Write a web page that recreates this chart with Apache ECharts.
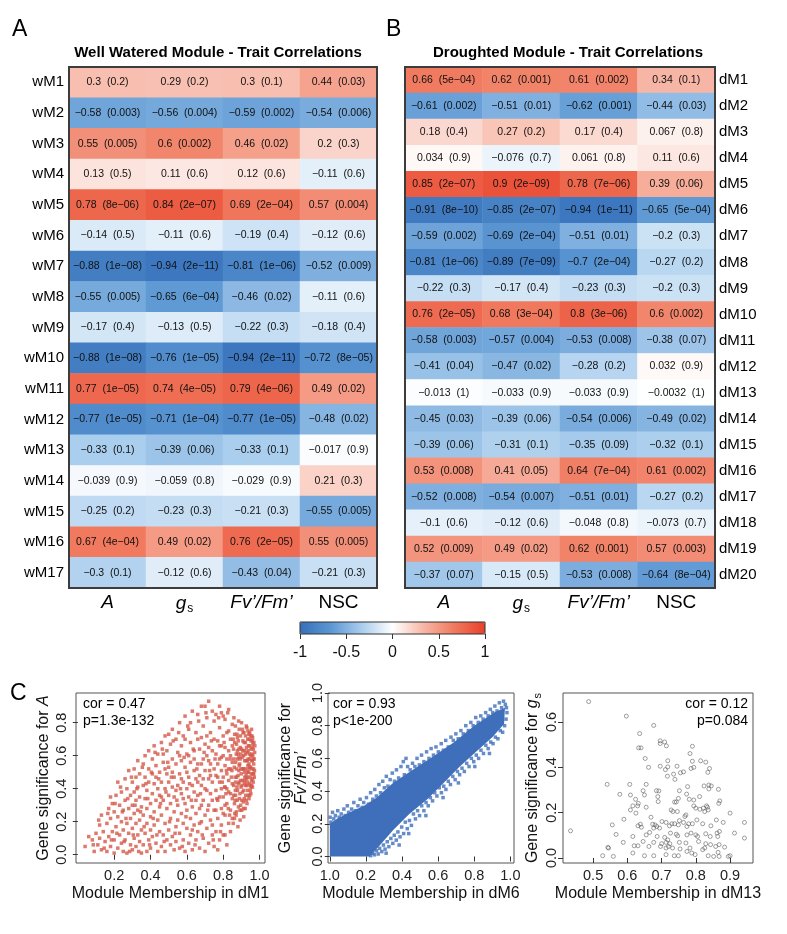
<!DOCTYPE html>
<html lang="en">
<head>
<meta charset="UTF-8">
<title>Module - Trait Correlations</title>
<script src="https://cdn.jsdelivr.net/npm/echarts@6/dist/echarts.min.js"></script>
<style>
    html, body { margin: 0; padding: 0; background: #fff; }
    #main { width: 787px; height: 934px; }
</style>
</head>
<body>
<div id="main"></div>
<script>
// ---------- heatmap data ----------
const traits = ['A', 'gs', 'Fv/Fm', 'NSC'];

const wRows = ['wM1','wM2','wM3','wM4','wM5','wM6','wM7','wM8','wM9','wM10','wM11','wM12','wM13','wM14','wM15','wM16','wM17'];
const wCor = [
    [0.3, 0.29, 0.3, 0.44],
    [-0.58, -0.56, -0.59, -0.54],
    [0.55, 0.6, 0.46, 0.2],
    [0.13, 0.11, 0.12, -0.11],
    [0.78, 0.84, 0.69, 0.57],
    [-0.14, -0.11, -0.19, -0.12],
    [-0.88, -0.94, -0.81, -0.52],
    [-0.55, -0.65, -0.46, -0.11],
    [-0.17, -0.13, -0.22, -0.18],
    [-0.88, -0.76, -0.94, -0.72],
    [0.77, 0.74, 0.79, 0.49],
    [-0.77, -0.71, -0.77, -0.48],
    [-0.33, -0.39, -0.33, -0.017],
    [-0.039, -0.059, -0.029, 0.21],
    [-0.25, -0.23, -0.21, -0.55],
    [0.67, 0.49, 0.76, 0.55],
    [-0.3, -0.12, -0.43, -0.21]
];
const wP = [
    ['0.2', '0.2', '0.1', '0.03'],
    ['0.003', '0.004', '0.002', '0.006'],
    ['0.005', '0.002', '0.02', '0.3'],
    ['0.5', '0.6', '0.6', '0.6'],
    ['8e-06', '2e-07', '2e-04', '0.004'],
    ['0.5', '0.6', '0.4', '0.6'],
    ['1e-08', '2e-11', '1e-06', '0.009'],
    ['0.005', '6e-04', '0.02', '0.6'],
    ['0.4', '0.5', '0.3', '0.4'],
    ['1e-08', '1e-05', '2e-11', '8e-05'],
    ['1e-05', '4e-05', '4e-06', '0.02'],
    ['1e-05', '1e-04', '1e-05', '0.02'],
    ['0.1', '0.06', '0.1', '0.9'],
    ['0.9', '0.8', '0.9', '0.3'],
    ['0.2', '0.3', '0.3', '0.005'],
    ['4e-04', '0.02', '2e-05', '0.005'],
    ['0.1', '0.6', '0.04', '0.3']
];

const dRows = ['dM1','dM2','dM3','dM4','dM5','dM6','dM7','dM8','dM9','dM10','dM11','dM12','dM13','dM14','dM15','dM16','dM17','dM18','dM19','dM20'];
const dCor = [
    [0.66, 0.62, 0.61, 0.34],
    [-0.61, -0.51, -0.62, -0.44],
    [0.18, 0.27, 0.17, 0.067],
    [0.034, -0.076, 0.061, 0.11],
    [0.85, 0.9, 0.78, 0.39],
    [-0.91, -0.85, -0.94, -0.65],
    [-0.59, -0.69, -0.51, -0.2],
    [-0.81, -0.89, -0.7, -0.27],
    [-0.22, -0.17, -0.23, -0.2],
    [0.76, 0.68, 0.8, 0.6],
    [-0.58, -0.57, -0.53, -0.38],
    [-0.41, -0.47, -0.28, 0.032],
    [-0.013, -0.033, -0.033, -0.0032],
    [-0.45, -0.39, -0.54, -0.49],
    [-0.39, -0.31, -0.35, -0.32],
    [0.53, 0.41, 0.64, 0.61],
    [-0.52, -0.54, -0.51, -0.27],
    [-0.1, -0.12, -0.048, -0.073],
    [0.52, 0.49, 0.62, 0.57],
    [-0.37, -0.15, -0.53, -0.64]
];
const dP = [
    ['5e-04', '0.001', '0.002', '0.1'],
    ['0.002', '0.01', '0.001', '0.03'],
    ['0.4', '0.2', '0.4', '0.8'],
    ['0.9', '0.7', '0.8', '0.6'],
    ['2e-07', '2e-09', '7e-06', '0.06'],
    ['8e-10', '2e-07', '1e-11', '5e-04'],
    ['0.002', '2e-04', '0.01', '0.3'],
    ['1e-06', '7e-09', '2e-04', '0.2'],
    ['0.3', '0.4', '0.3', '0.3'],
    ['2e-05', '3e-04', '3e-06', '0.002'],
    ['0.003', '0.004', '0.008', '0.07'],
    ['0.04', '0.02', '0.2', '0.9'],
    ['1', '0.9', '0.9', '1'],
    ['0.03', '0.06', '0.006', '0.02'],
    ['0.06', '0.1', '0.09', '0.1'],
    ['0.008', '0.05', '7e-04', '0.002'],
    ['0.008', '0.007', '0.01', '0.2'],
    ['0.6', '0.6', '0.8', '0.7'],
    ['0.009', '0.02', '0.001', '0.003'],
    ['0.07', '0.5', '0.008', '8e-04']
];

const colorTicks = [-1, -0.5, 0, 0.5, 1];

// ---------- scatter data ----------
// dM1 membership vs gene significance for A
const dM1Points = [
    [0.04,0.05],[0.06,0.11],[0.08,0.09],[0.09,0.02],[0.10,0.13],[0.11,0.06],[0.12,0.10],[0.13,0.03],[0.13,0.24],[0.14,0.14],[0.15,0.08],[0.12,0.18],
    [0.16,0.02],[0.16,0.19],[0.17,0.28],[0.17,0.11],[0.18,0.05],[0.18,0.22],[0.19,0.31],[0.19,0.14],[0.20,0.01],[0.20,0.26],[0.20,0.09],[0.21,0.36],[0.21,0.17],
    [0.22,0.04],[0.22,0.23],[0.22,0.44],[0.23,0.12],[0.23,0.30],[0.24,0.07],[0.24,0.20],[0.24,0.38],[0.25,0.15],[0.25,0.02],[0.25,0.27],[0.18,0.35],
    [0.26,0.09],[0.26,0.33],[0.26,0.46],[0.27,0.19],[0.27,0.01],[0.27,0.40],[0.28,0.13],[0.28,0.28],[0.28,0.51],[0.29,0.06],[0.29,0.22],[0.29,0.36],
    [0.30,0.16],[0.30,0.44],[0.30,0.03],[0.30,0.30],[0.31,0.10],[0.31,0.25],[0.31,0.52],[0.31,0.38],[0.32,0.19],[0.32,0.05],[0.32,0.33],[0.32,0.47],
    [0.33,0.12],[0.33,0.27],[0.33,0.57],[0.33,0.41],[0.34,0.08],[0.34,0.21],[0.34,0.35],[0.34,0.49],[0.35,0.15],[0.35,0.01],[0.35,0.29],
    [0.36,0.42],[0.36,0.06],[0.36,0.24],[0.36,0.55],[0.37,0.13],[0.37,0.34],[0.37,0.60],[0.37,0.47],[0.38,0.02],[0.38,0.19],[0.38,0.28],[0.38,0.39],
    [0.39,0.09],[0.39,0.52],[0.39,0.44],[0.39,0.63],[0.40,0.15],[0.40,0.31],[0.40,0.23],[0.40,0.04],[0.41,0.37],[0.41,0.49],[0.41,0.58],[0.41,0.11],
    [0.42,0.26],[0.42,0.43],[0.42,0.18],[0.42,0.66],[0.43,0.07],[0.43,0.33],[0.43,0.54],[0.43,0.47],[0.44,0.21],[0.44,0.02],[0.44,0.40],[0.44,0.61],
    [0.45,0.14],[0.45,0.29],[0.45,0.50],[0.45,0.36],
    [0.46,0.05],[0.46,0.24],[0.46,0.44],[0.46,0.68],[0.47,0.12],[0.47,0.33],[0.47,0.56],[0.47,0.61],[0.48,0.19],[0.48,0.40],[0.48,0.02],[0.48,0.72],
    [0.49,0.09],[0.49,0.28],[0.49,0.49],[0.49,0.63],[0.50,0.15],[0.50,0.36],[0.50,0.53],[0.50,0.44],[0.51,0.06],[0.51,0.22],[0.51,0.67],[0.51,0.31],
    [0.52,0.11],[0.52,0.41],[0.52,0.58],[0.52,0.76],[0.53,0.26],[0.53,0.03],[0.53,0.47],[0.53,0.35],[0.54,0.17],[0.54,0.55],[0.54,0.70],[0.54,0.08],
    [0.55,0.30],[0.55,0.42],[0.55,0.62],[0.55,0.21],[0.52,0.50],[0.50,0.73],[0.48,0.52],[0.46,0.35],[0.54,0.39],
    [0.56,0.04],[0.56,0.13],[0.56,0.49],[0.56,0.80],[0.57,0.25],[0.57,0.37],[0.57,0.66],[0.57,0.57],[0.58,0.09],[0.58,0.44],[0.58,0.72],[0.58,0.19],
    [0.59,0.31],[0.59,0.53],[0.59,0.84],[0.59,0.02],[0.60,0.16],[0.60,0.40],[0.60,0.61],[0.60,0.27],[0.61,0.07],[0.61,0.47],[0.61,0.76],[0.61,0.35],
    [0.62,0.22],[0.62,0.56],[0.62,0.12],[0.62,0.68],[0.63,0.42],[0.63,0.29],[0.63,0.87],[0.63,0.03],[0.64,0.18],[0.64,0.51],[0.64,0.63],[0.64,0.38],
    [0.65,0.09],[0.65,0.25],[0.65,0.74],[0.65,0.46],[0.56,0.60],[0.58,0.34],[0.60,0.50],[0.62,0.80],[0.64,0.58],[0.57,0.46],[0.59,0.70],[0.61,0.60],
    [0.63,0.15],[0.65,0.33],
    [0.66,0.55],[0.66,0.14],[0.66,0.85],[0.66,0.36],[0.67,0.04],[0.67,0.28],[0.67,0.64],[0.67,0.48],[0.68,0.20],[0.68,0.71],[0.68,0.42],[0.68,0.90],
    [0.69,0.10],[0.69,0.33],[0.69,0.58],[0.69,0.78],[0.70,0.24],[0.70,0.51],[0.70,0.02],[0.70,0.67],[0.71,0.16],[0.71,0.39],[0.71,0.83],[0.71,0.60],
    [0.72,0.07],[0.72,0.30],[0.72,0.46],[0.72,0.93],[0.73,0.21],[0.73,0.55],[0.73,0.74],[0.73,0.37],[0.74,0.12],[0.74,0.63],[0.74,0.87],[0.74,0.44],
    [0.75,0.27],[0.75,0.52],[0.75,0.05],[0.75,0.70],[0.66,0.70],[0.68,0.55],[0.70,0.40],[0.72,0.65],[0.74,0.33],[0.67,0.19],[0.69,0.46],[0.71,0.72],
    [0.73,0.48],[0.75,0.81],[0.70,0.90],[0.72,0.57],[0.68,0.30],[0.74,0.18],[0.66,0.44],
    [0.76,0.14],[0.76,0.39],[0.76,0.61],[0.76,0.85],[0.76,0.48],[0.77,0.22],[0.77,0.69],[0.77,0.33],[0.77,0.55],[0.77,0.03],[0.78,0.44],[0.78,0.77],
    [0.78,0.09],[0.78,0.58],[0.78,0.90],[0.79,0.28],[0.79,0.51],[0.79,0.66],[0.79,0.18],[0.79,0.40],[0.80,0.35],[0.80,0.72],[0.80,0.60],[0.80,0.12],
    [0.80,0.47],[0.81,0.24],[0.81,0.82],[0.81,0.54],[0.81,0.41],[0.81,0.65],[0.82,0.31],[0.82,0.06],[0.82,0.49],[0.82,0.74],[0.82,0.58],[0.83,0.19],
    [0.83,0.38],[0.83,0.63],[0.83,0.88],[0.83,0.45],[0.84,0.27],[0.84,0.52],[0.84,0.70],[0.84,0.14],[0.84,0.60],[0.85,0.34],[0.85,0.43],[0.85,0.79],
    [0.85,0.22],[0.85,0.56],[0.76,0.27],[0.78,0.66],[0.80,0.84],[0.82,0.40],[0.84,0.37],[0.77,0.47],[0.79,0.59],[0.81,0.30],[0.83,0.52],[0.85,0.66],
    [0.79,0.86],[0.81,0.12],[0.83,0.75],[0.78,0.35],[0.80,0.25],
    [0.855,0.19],[0.862,0.31],[0.858,0.42],[0.861,0.53],[0.857,0.64],[0.863,0.73],[0.859,0.83],[0.871,0.24],[0.868,0.36],[0.874,0.47],[0.869,0.56],
    [0.873,0.67],[0.867,0.78],[0.872,0.26],[0.881,0.17],[0.884,0.29],[0.879,0.39],[0.886,0.51],[0.882,0.61],[0.878,0.71],[0.885,0.81],[0.893,0.21],
    [0.889,0.34],[0.896,0.45],[0.891,0.55],[0.894,0.65],[0.888,0.76],[0.902,0.27],[0.906,0.38],[0.899,0.49],[0.904,0.59],[0.908,0.69],[0.901,0.80],
    [0.913,0.23],[0.911,0.32],[0.916,0.43],[0.912,0.52],[0.917,0.63],[0.914,0.74],[0.921,0.28],[0.924,0.36],[0.919,0.47],[0.926,0.57],[0.922,0.68],
    [0.927,0.78],[0.866,0.47],[0.877,0.58],[0.887,0.44],[0.897,0.61],[0.907,0.52],[0.918,0.57],[0.864,0.25],[0.883,0.69],[0.903,0.33],[0.915,0.68],
    [0.925,0.42],[0.876,0.41],[0.892,0.27],[0.909,0.74],[0.858,0.58],[0.895,0.72],[0.913,0.39],[0.921,0.52],
    [0.931,0.31],[0.934,0.39],[0.929,0.46],[0.936,0.54],[0.932,0.62],[0.935,0.70],[0.930,0.77],[0.942,0.34],[0.945,0.43],[0.940,0.50],[0.947,0.58],
    [0.943,0.66],[0.946,0.74],[0.952,0.37],[0.955,0.45],[0.951,0.53],[0.957,0.61],[0.953,0.69],[0.956,0.76],[0.961,0.41],[0.964,0.49],[0.960,0.57],
    [0.966,0.64],[0.962,0.71],[0.971,0.47],[0.968,0.55],[0.973,0.62],[0.969,0.68],[0.938,0.36],[0.933,0.50],[0.939,0.66],[0.948,0.47],[0.944,0.61],
    [0.949,0.39],[0.958,0.57],[0.954,0.49],[0.959,0.65],[0.967,0.52],[0.963,0.60],[0.965,0.44],[0.937,0.58],[0.941,0.73],[0.950,0.72],[0.970,0.58],
    [0.974,0.66],[0.928,0.42],[0.947,0.53],[0.957,0.42],[0.961,0.69],[0.935,0.47],
    [0.085,0.06],[0.115,0.21],[0.145,0.04],[0.165,0.25],[0.185,0.09],[0.205,0.31],[0.215,0.13],[0.235,0.41],[0.245,0.26],[0.255,0.08],[0.265,0.22],
    [0.275,0.34],[0.285,0.02],[0.295,0.47],[0.305,0.12],[0.315,0.30],[0.325,0.40],[0.335,0.02],[0.345,0.26],[0.355,0.53],[0.365,0.17],[0.375,0.43],
    [0.385,0.34],[0.395,0.06],[0.405,0.50],[0.415,0.22],[0.425,0.62],[0.435,0.12],[0.445,0.46],[0.455,0.31],[0.465,0.64],[0.475,0.08],[0.485,0.38],
    [0.495,0.56],[0.505,0.20],[0.515,0.47],[0.525,0.69],[0.535,0.13],[0.545,0.33],[0.555,0.74],[0.565,0.40],[0.575,0.05],[0.585,0.59],[0.595,0.23],
    [0.605,0.78],[0.615,0.43],[0.625,0.33],[0.635,0.64],[0.645,0.06],[0.655,0.52],[0.665,0.81],[0.675,0.37],[0.685,0.12],[0.695,0.62],[0.705,0.86],
    [0.715,0.27],[0.725,0.51],[0.735,0.69],[0.745,0.09],[0.755,0.58],[0.765,0.34],[0.775,0.83],[0.785,0.14],[0.795,0.44],[0.805,0.68],[0.815,0.37],
    [0.825,0.86],[0.835,0.24],[0.845,0.47],[0.855,0.70],
    [0.862,0.22],[0.867,0.39],[0.872,0.61],[0.877,0.33],[0.882,0.48],[0.887,0.59],[0.892,0.37],[0.897,0.52],[0.902,0.64],[0.907,0.45],[0.912,0.28],
    [0.917,0.50],[0.922,0.61],[0.927,0.33],[0.932,0.44],[0.937,0.63],[0.942,0.55],[0.947,0.42],[0.952,0.60],[0.957,0.52],[0.962,0.46],[0.967,0.58],
    [0.972,0.51],[0.943,0.70],[0.953,0.41],[0.963,0.67],[0.933,0.57],[0.923,0.72],[0.913,0.60],[0.903,0.42],[0.893,0.58],[0.883,0.43],[0.873,0.52],
    [0.863,0.68],[0.953,0.64],[0.946,0.36],[0.936,0.75],[0.926,0.48],[0.916,0.34],[0.906,0.76],[0.896,0.30],[0.886,0.64],[0.876,0.73],[0.866,0.33],
    [0.958,0.72],[0.968,0.49],[0.938,0.52],[0.928,0.65],[0.918,0.45],[0.908,0.63],[0.898,0.41],[0.888,0.54],[0.878,0.63],[0.868,0.44],[0.858,0.36],
    [0.848,0.51],[0.838,0.58],[0.828,0.28],[0.818,0.51],[0.808,0.41]
];

// dM6 membership vs gene significance for Fv'/Fm' : dense core outline + fringe points
const dM6Lower = [[0,0],[0.22,0],[0.27,0.06],[0.35,0.16],[0.44,0.26],[0.54,0.35],[0.63,0.45],[0.72,0.55],[0.81,0.64],[0.90,0.73],[0.965,0.81]];
const dM6Upper = [[0.97,0.91],[0.91,0.88],[0.80,0.80],[0.69,0.70],[0.57,0.61],[0.46,0.53],[0.35,0.45],[0.26,0.36],[0.19,0.31],[0.11,0.27],[0.04,0.23],[0,0.20]];
const dM6Points = [
    [0.002,0.24],[0.006,0.21],[0.015,0.27],[0.022,0.23],[0.031,0.25],[0.044,0.28],[0.052,0.24],[0.063,0.26],[0.078,0.29],[0.085,0.25],[0.097,0.31],
    [0.104,0.27],[0.121,0.29],[0.133,0.33],[0.142,0.28],[0.156,0.31],[0.168,0.35],[0.179,0.30],[0.188,0.33],[0.203,0.36],[0.214,0.32],[0.226,0.39],
    [0.238,0.35],[0.249,0.41],[0.258,0.37],[0.272,0.44],[0.281,0.39],[0.293,0.46],[0.302,0.42],[0.313,0.49],[0.322,0.43],[0.334,0.47],[0.346,0.51],
    [0.358,0.46],[0.369,0.53],[0.381,0.48],[0.394,0.55],[0.407,0.58],[0.413,0.50],[0.422,0.60],[0.431,0.55],[0.445,0.53],[0.458,0.57],[0.471,0.55],
    [0.483,0.60],[0.496,0.56],[0.508,0.62],[0.521,0.58],[0.536,0.64],[0.549,0.60],[0.561,0.66],[0.574,0.62],[0.588,0.67],[0.601,0.64],[0.617,0.69],
    [0.629,0.65],[0.642,0.71],[0.656,0.67],[0.671,0.73],[0.684,0.71],[0.698,0.75],[0.711,0.72],[0.726,0.77],[0.739,0.75],[0.753,0.80],[0.767,0.77],
    [0.781,0.82],[0.794,0.80],[0.808,0.85],[0.822,0.82],[0.836,0.86],[0.849,0.84],[0.863,0.88],[0.877,0.86],[0.889,0.90],[0.902,0.88],[0.914,0.92],
    [0.926,0.89],[0.939,0.94],[0.951,0.91],[0.962,0.95],[0.972,0.93],
    [0.226,0.005],[0.238,0.02],[0.247,0.01],[0.259,0.035],[0.268,0.015],[0.276,0.05],[0.288,0.03],[0.297,0.07],[0.306,0.045],[0.318,0.09],[0.327,0.06],
    [0.338,0.11],[0.349,0.08],[0.357,0.13],[0.368,0.10],[0.377,0.15],[0.389,0.12],[0.398,0.18],[0.409,0.14],[0.418,0.21],[0.429,0.17],[0.441,0.22],
    [0.452,0.19],[0.463,0.26],[0.474,0.23],[0.486,0.28],[0.497,0.25],[0.509,0.31],[0.521,0.28],[0.533,0.33],[0.545,0.31],[0.557,0.36],[0.569,0.34],
    [0.581,0.39],[0.593,0.37],[0.606,0.42],[0.618,0.39],[0.631,0.43],[0.643,0.41],[0.656,0.46],[0.668,0.44],[0.681,0.49],[0.694,0.47],[0.707,0.52],
    [0.719,0.50],[0.732,0.54],[0.745,0.52],[0.758,0.57],[0.771,0.55],[0.784,0.60],[0.797,0.58],[0.811,0.62],[0.824,0.60],[0.837,0.65],[0.851,0.63],
    [0.864,0.68],[0.877,0.66],[0.891,0.70],[0.904,0.69],[0.917,0.73],[0.931,0.72],[0.944,0.77],[0.957,0.76],[0.968,0.80],[0.976,0.84],[0.981,0.88],
    [0.978,0.91],[0.312,0.02],[0.384,0.07],[0.437,0.14],[0.532,0.25],[0.627,0.36],[0.712,0.45],[0.803,0.55],[0.884,0.63]
];

// dM13 membership vs gene significance for gs
const dM13Points = [
    [0.487,0.69],[0.597,0.626],[0.677,0.585],[0.636,0.549],[0.633,0.486],[0.64,0.486],[0.696,0.517],[0.709,0.512],[0.696,0.505],[0.714,0.495],
    [0.79,0.493],[0.783,0.461],[0.652,0.439],[0.718,0.429],[0.79,0.427],[0.814,0.429],[0.829,0.423],[0.662,0.4],[0.696,0.405],[0.711,0.39],
    [0.718,0.402],[0.745,0.405],[0.786,0.395],[0.794,0.4],[0.84,0.395],[0.835,0.378],[0.717,0.361],[0.735,0.37],[0.739,0.347],[0.755,0.376],
    [0.764,0.38],[0.541,0.325],[0.607,0.325],[0.655,0.325],[0.824,0.318],[0.838,0.322],[0.845,0.318],[0.838,0.305],[0.866,0.303],[0.776,0.315],
    [0.578,0.281],[0.609,0.278],[0.646,0.297],[0.685,0.297],[0.692,0.296],[0.689,0.271],[0.65,0.278],[0.624,0.259],[0.632,0.241],[0.69,0.249],
    [0.738,0.247],[0.743,0.247],[0.749,0.263],[0.752,0.297],[0.773,0.282],[0.781,0.259],[0.794,0.256],[0.811,0.271],[0.87,0.252],[0.867,0.241],
    [0.616,0.23],[0.63,0.23],[0.655,0.224],[0.609,0.212],[0.625,0.198],[0.728,0.212],[0.733,0.205],[0.746,0.205],[0.794,0.23],[0.8,0.22],
    [0.812,0.215],[0.826,0.205],[0.831,0.23],[0.834,0.224],[0.836,0.212],[0.822,0.22],[0.9,0.198],[0.59,0.171],[0.669,0.18],[0.638,0.149],
    [0.631,0.142],[0.641,0.136],[0.674,0.149],[0.681,0.146],[0.686,0.139],[0.694,0.132],[0.677,0.132],[0.701,0.161],[0.713,0.157],[0.723,0.142],
    [0.73,0.151],[0.738,0.151],[0.752,0.165],[0.749,0.146],[0.764,0.157],[0.768,0.183],[0.771,0.19],[0.774,0.139],[0.779,0.151],[0.79,0.151],
    [0.803,0.168],[0.82,0.151],[0.844,0.142],[0.86,0.168],[0.88,0.157],[0.942,0.157],[0.556,0.146],[0.567,0.104],[0.434,0.12],[0.616,0.095],
    [0.655,0.102],[0.665,0.113],[0.687,0.095],[0.709,0.091],[0.718,0.08],[0.726,0.11],[0.743,0.105],[0.747,0.098],[0.774,0.102],[0.786,0.11],
    [0.8,0.102],[0.805,0.095],[0.829,0.107],[0.842,0.095],[0.864,0.095],[0.862,0.11],[0.869,0.117],[0.913,0.11],[0.942,0.088],[0.588,0.069],
    [0.646,0.073],[0.677,0.069],[0.7,0.063],[0.713,0.069],[0.724,0.063],[0.752,0.069],[0.771,0.066],[0.808,0.073],[0.829,0.063],[0.843,0.059],
    [0.858,0.051],[0.868,0.059],[0.884,0.048],[0.543,0.047],[0.545,0.044],[0.62,0.054],[0.631,0.054],[0.663,0.051],[0.697,0.051],[0.713,0.044],
    [0.72,0.051],[0.732,0.044],[0.754,0.04],[0.783,0.044],[0.82,0.037],[0.826,0.044],[0.616,0.022],[0.65,0.01],[0.677,0.01],[0.713,0.015],
    [0.737,0.01],[0.749,0.01],[0.774,0.029],[0.788,0.022],[0.798,0.015],[0.836,0.01],[0.852,0.007],[0.868,0.007],[0.865,0.025],[0.895,0.007],
    [0.9,0.01],[0.528,0.01],[0.559,0.007]
];

// ---------- chart ----------
const FONT = 'Liberation Sans, Arial, Helvetica, sans-serif';
const gA = { left: 69, top: 67, width: 308, height: 521 };
const gB = { left: 405, top: 67, width: 310, height: 521 };
const gBar = { left: 300, top: 622, width: 185, height: 12 };
const gS1 = { left: 76, top: 693, width: 189, height: 170 };
const gS2 = { left: 328, top: 693, width: 186, height: 170 };
const gS3 = { left: 563, top: 693, width: 190, height: 170 };

function cells(cor) {
    const out = [];
    cor.forEach((row, i) => row.forEach((v, j) => out.push([j, i, v])));
    return out;
}
function minus(s) { return String(s).replace(/-/g, '\u2212'); }
function cellLabel(cor, pv) {
    return p => minus(cor[p.value[1]][p.value[0]]) + '  (' + minus(pv[p.value[1]][p.value[0]]) + ')';
}

const traitRich = {
    i: { fontStyle: 'italic', fontSize: 19, fontFamily: FONT, color: '#000' },
    s: { fontSize: 12, fontFamily: FONT, color: '#000', padding: [10, 0, 0, 1] },
    n: { fontSize: 19, fontFamily: FONT, color: '#000' }
};
const traitFmt = v => ({ 'A': '{i|A}', 'gs': '{i|g}{s|s}', 'Fv/Fm': '{i|Fv\u2019/Fm\u2019}', 'NSC': '{n|NSC}' })[v];

function heatX(gi) {
    return {
        gridIndex: gi, type: 'category', data: traits, position: 'bottom',
        axisLine: { show: false }, axisTick: { show: false }, splitLine: { show: false },
        axisLabel: { formatter: traitFmt, rich: traitRich, margin: 5, interval: 0 }
    };
}
function heatY(gi, rows, pos) {
    return {
        gridIndex: gi, type: 'category', data: rows, inverse: true, position: pos,
        axisLine: { show: false }, axisTick: { show: false }, splitLine: { show: false },
        axisLabel: { fontSize: 15, fontFamily: FONT, color: '#000', margin: pos === 'left' ? 5 : 4 }
    };
}

const tickStyle = { lineStyle: { color: '#333', width: 1 }, length: 5 };
const nameStyle = {
    fontSize: 16, fontFamily: FONT, color: '#111',
    rich: {
        t: { fontSize: 16, fontFamily: FONT, color: '#111' },
        i: { fontSize: 16, fontFamily: FONT, color: '#111', fontStyle: 'italic' },
        s: { fontSize: 11, fontFamily: FONT, color: '#111', padding: [9, 0, 0, 1] }
    }
};
function scX(gi, min, max, ticks, name, fmt) {
    return {
        gridIndex: gi, type: 'value', min: min, max: max,
        axisLine: { show: false }, splitLine: { show: false },
        axisTick: Object.assign({ customValues: ticks }, tickStyle),
        axisLabel: { customValues: ticks, formatter: fmt || (v => v.toFixed(1)), fontSize: 14.5, fontFamily: FONT, color: '#222', margin: 5 },
        name: name, nameLocation: 'middle', nameGap: 23, nameTextStyle: nameStyle
    };
}
function scY(gi, min, max, ticks, name, gap, margin) {
    return {
        gridIndex: gi, type: 'value', min: min, max: max,
        axisLine: { show: false }, splitLine: { show: false },
        axisTick: Object.assign({ customValues: ticks }, tickStyle),
        axisLabel: { customValues: ticks, formatter: v => v.toFixed(1), rotate: 90, fontSize: 14.5, fontFamily: FONT, color: '#222', margin: margin },
        name: name, nameLocation: 'middle', nameRotate: 90, nameGap: gap, nameTextStyle: nameStyle
    };
}
function frame(g, w, color) {
    return { type: 'rect', silent: true, z: 100, shape: { x: g.left, y: g.top, width: g.width, height: g.height },
             style: { fill: 'transparent', stroke: color, lineWidth: w } };
}
function txt(x, y, s, size, opts) {
    return Object.assign({ type: 'text', silent: true, z: 100, x: x, y: y,
        style: Object.assign({ text: s, fontSize: size, fontFamily: FONT, fill: '#000', textVerticalAlign: 'top' }, opts || {}) });
}

const chart = echarts.init(document.getElementById('main'));
const option = {
    animation: false,
    backgroundColor: '#fff',
    grid: [
        Object.assign({}, gA),
        Object.assign({}, gB),
        Object.assign({}, gBar),
        Object.assign({ show: true, borderColor: '#555', borderWidth: 1 }, gS1),
        Object.assign({ show: true, borderColor: '#555', borderWidth: 1 }, gS2),
        Object.assign({ show: true, borderColor: '#555', borderWidth: 1 }, gS3)
    ],
    xAxis: [
        heatX(0), heatX(1),
        { gridIndex: 2, type: 'value', min: -1, max: 1, interval: 0.5,
          axisLine: { show: false }, splitLine: { show: false }, axisTick: tickStyle,
          axisLabel: { customValues: colorTicks, fontSize: 16, fontFamily: FONT, color: '#111', margin: 11, formatter: v => String(v) } },
        scX(3, -0.01, 1.03, [0.2, 0.4, 0.6, 0.8, 1.0], 'Module Membership in dM1'),
        scX(4, -0.01, 1.02, [0, 0.2, 0.4, 0.6, 0.8, 1.0], 'Module Membership in dM6', v => v === 0 ? '1.0' : v.toFixed(1)),
        scX(5, 0.412, 0.967, [0.5, 0.6, 0.7, 0.8, 0.9], 'Module Membership in dM13')
    ],
    yAxis: [
        heatY(0, wRows, 'left'), heatY(1, dRows, 'right'),
        { gridIndex: 2, type: 'value', show: false, min: 0, max: 1 },
        scY(3, -0.05, 0.98, [0, 0.2, 0.4, 0.6, 0.8], '{t|Gene significance for }{i|A}', 24, 7),
        scY(4, -0.04, 1.0, [0, 0.2, 0.4, 0.6, 0.8, 1.0], '{t|Gene significance for}\n{i|Fv\u2019/Fm\u2019}', 16, 3),
        scY(5, -0.022, 0.728, [0, 0.2, 0.4, 0.6], '{t|Gene significance for }{i|g}{s|s}', 20, 4)
    ],
    visualMap: {
        type: 'continuous', min: -1, max: 1, seriesIndex: [0, 1],
        orient: 'horizontal', left: gBar.left, top: gBar.top,
        itemWidth: gBar.height, itemHeight: gBar.width,
        calculable: false, hoverLink: false, padding: 0, text: null,
        inRange: { color: ['#3570BA', '#5C97D3', '#A9CDED', '#FFFFFF', '#F7B7A6', '#F07A5F', '#E8412A'] }
    },
    graphic: [
        frame(gA, 2, '#3c3c3c'),
        frame(gB, 2, '#3c3c3c'),
        frame(gBar, 1, '#333'),
        txt(12, 18, 'A', 23),
        txt(386, 18, 'B', 23),
        txt(10, 682, 'C', 23),
        txt(218, 45, 'Well Watered Module - Trait Correlations', 15, { fontWeight: 'bold', textAlign: 'center' }),
        txt(568, 45, 'Droughted Module - Trait Correlations', 15, { fontWeight: 'bold', textAlign: 'center' }),
        txt(83, 697, 'cor = 0.47', 14),
        txt(83, 714, 'p=1.3e-132', 14),
        txt(333, 697, 'cor = 0.93', 14),
        txt(333, 714, 'p<1e-200', 14),
        txt(748, 697, 'cor = 0.12', 14, { textAlign: 'right' }),
        txt(748, 714, 'p=0.084', 14, { textAlign: 'right' })
    ],
    series: [
        { type: 'heatmap', xAxisIndex: 0, yAxisIndex: 0, data: cells(wCor),
          label: { show: true, formatter: cellLabel(wCor, wP), fontSize: 10.5, fontFamily: FONT, color: '#111' } },
        { type: 'heatmap', xAxisIndex: 1, yAxisIndex: 1, data: cells(dCor),
          label: { show: true, formatter: cellLabel(dCor, dP), fontSize: 10.5, fontFamily: FONT, color: '#111' } },
        { type: 'scatter', xAxisIndex: 3, yAxisIndex: 3, data: dM1Points, symbol: 'rect', symbolSize: 3.5,
          itemStyle: { color: '#D5594A' }, silent: true },
        { type: 'custom', xAxisIndex: 4, yAxisIndex: 4, data: [[0, 0]], silent: true,
          renderItem: (params, api) => ({
              type: 'polygon',
              shape: { points: dM6Lower.concat(dM6Upper).map(p => api.coord(p)) },
              style: { fill: '#3F6FBA' }
          }) },
        { type: 'scatter', xAxisIndex: 4, yAxisIndex: 4, data: dM6Points, symbol: 'rect', symbolSize: 3.5,
          itemStyle: { color: '#3F6FBA' }, silent: true },
        { type: 'scatter', xAxisIndex: 5, yAxisIndex: 5, data: dM13Points, symbol: 'circle', symbolSize: 4,
          itemStyle: { color: 'transparent', borderColor: '#555', borderWidth: 0.7 }, silent: true }
    ]
};
chart.setOption(option);
</script>
</body>
</html>
